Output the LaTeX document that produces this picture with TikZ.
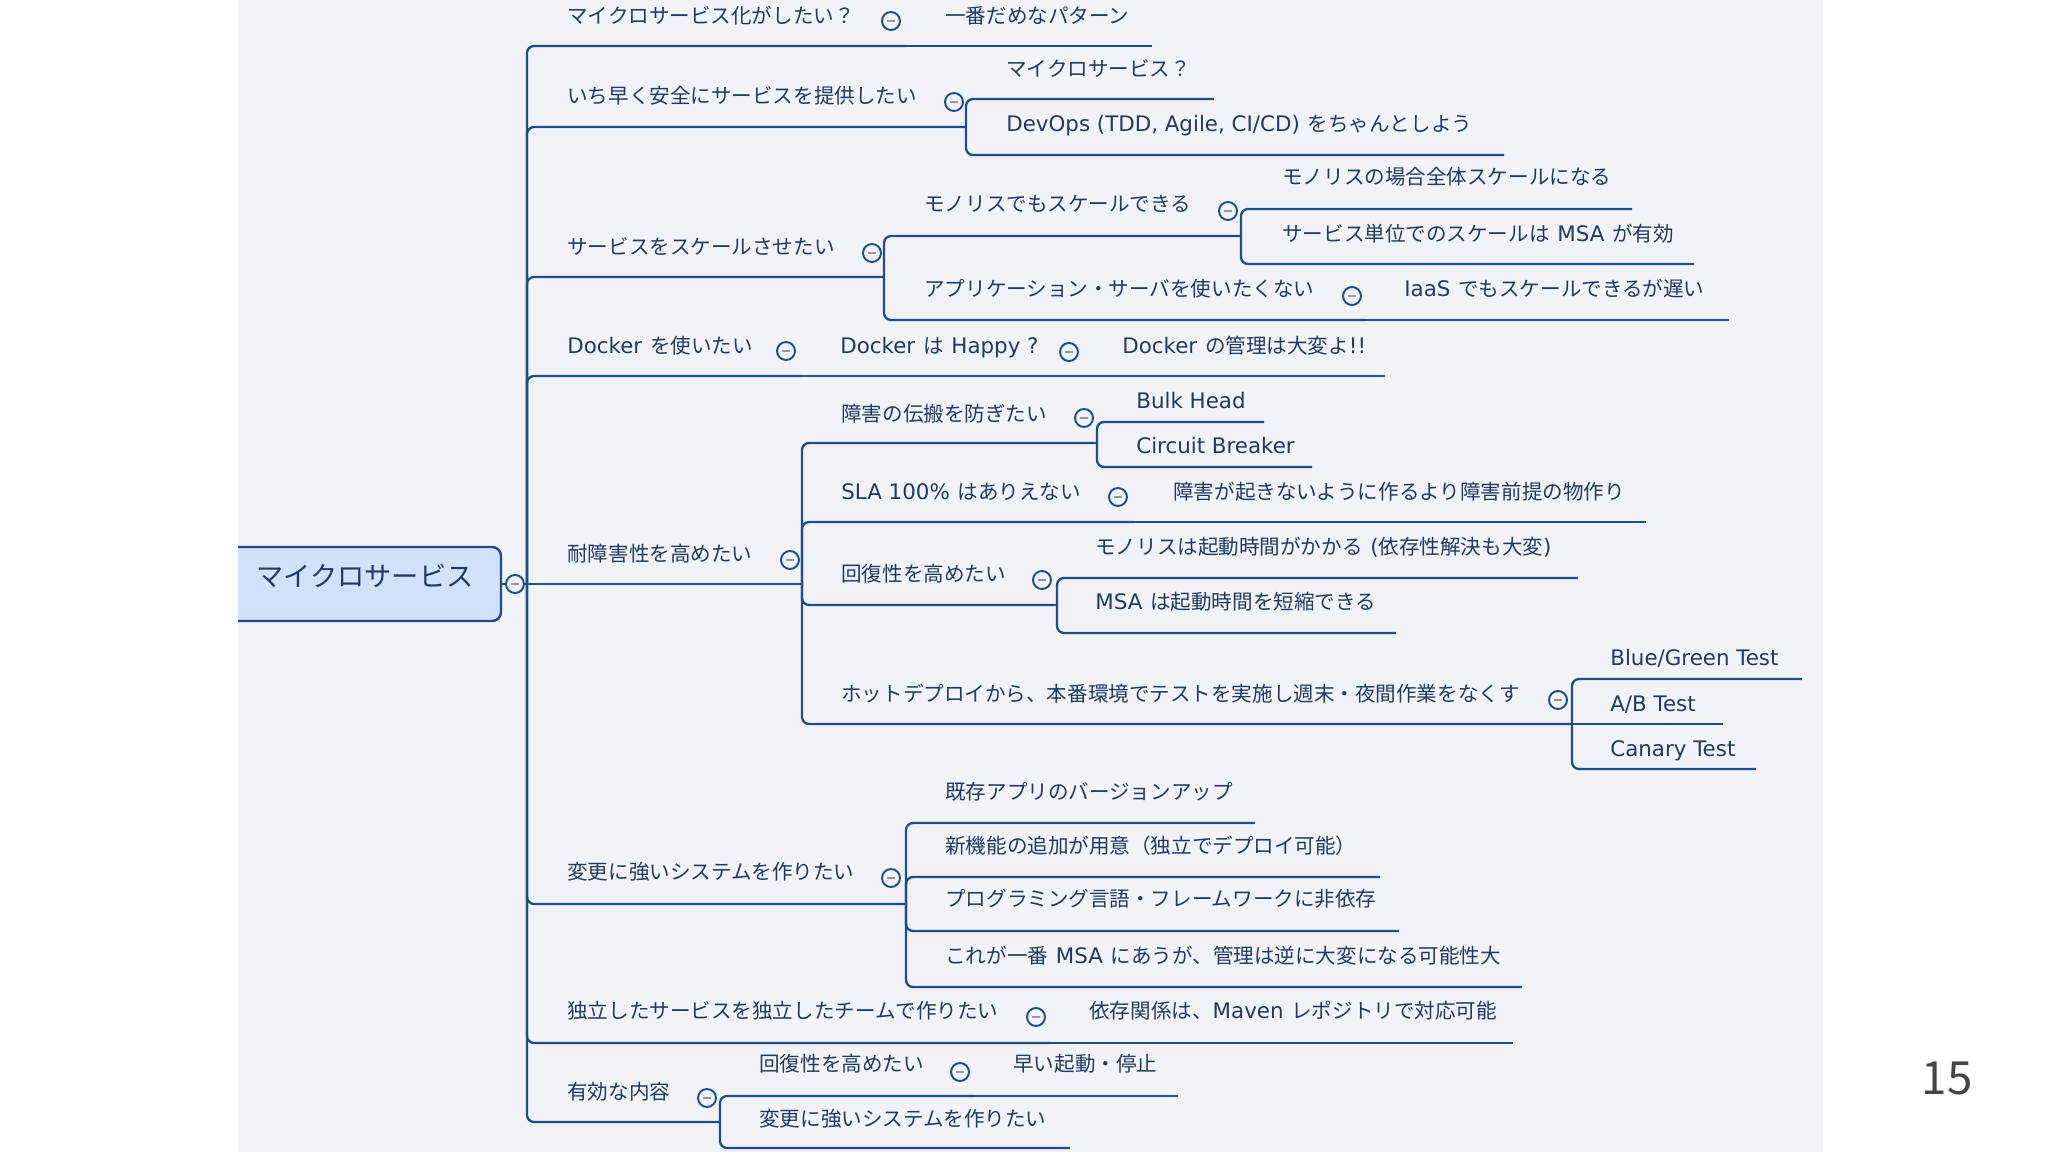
\documentclass[tikz,border=0pt]{standalone}
\usepackage{fontspec}
\setmainfont{Noto Sans CJK JP}[WordSpace=1.7]
\newfontfamily\lat{DejaVu Sans}[Scale=1.04]
\definecolor{paper}{RGB}{241,243,249}
\definecolor{edgeblue}{RGB}{31,78,134}
\definecolor{inkblue}{RGB}{32,58,98}
\definecolor{rootfill}{RGB}{210,225,250}
\definecolor{dashgray}{RGB}{140,154,176}
\begin{document}
\begin{tikzpicture}[x=0.02cm, y=-0.02cm,
	branch/.style={draw=edgeblue, line width=1.3pt, rounded corners=4pt},
	topic/.style={anchor=west, inner sep=0pt, text=inkblue, font=\fontsize{11.7}{14}\selectfont, text height=9.4pt, text depth=2.3pt},
	fold/.style={circle, draw=edgeblue, line width=1.1pt, fill=paper, minimum size=0.36cm, inner sep=0pt,
		path picture={\draw[dashgray, line width=0.8pt] ([xshift=-2.3pt]path picture bounding box.center) -- ([xshift=2.3pt]path picture bounding box.center);}},
	root/.style={draw=edgeblue, line width=1.4pt, fill=rootfill, rounded corners=5pt, minimum width=5.44cm, minimum height=1.48cm,
		text=inkblue, font=\fontsize{15.5}{18}\selectfont, text height=9.4pt, text depth=6.3pt},
	pagenum/.style={text=black!73, font=\fontsize{26}{30}\selectfont}]
	
	% 背景
	\fill[white] (0,0) rectangle (2048,1152);
	\fill[paper] (238,0) rectangle (1823,1152);
	\useasboundingbox (0,0) rectangle (2048,1152);
	
	% 中心トピック
	\begin{scope}
		\clip (238,0) rectangle (1823,1152);
		\node[root] (ms) at (365,584) {マイクロサービス};
	\end{scope}
	\node[fold] (ms-f) at (515,584) {};
	\coordinate (ms-j) at (527,584);
	
	% 線の終点
	\coordinate (t1e) at (906,46);
	\coordinate (t1ae) at (1152,46);
	\coordinate (t2e) at (966,127);
	\coordinate (t2ae) at (1214,99);
	\coordinate (t2be) at (1504,155);
	\coordinate (t3e) at (884,277);
	\coordinate (t3ae) at (1241,236);
	\coordinate (t3a1e) at (1632,209);
	\coordinate (t3a2e) at (1694,264);
	\coordinate (t3be) at (1365,320);
	\coordinate (t3b1e) at (1729,320);
	\coordinate (t4e) at (801,376);
	\coordinate (t4ae) at (1083,376);
	\coordinate (t4a1e) at (1385,376);
	\coordinate (t5e) at (802,584);
	\coordinate (t5ae) at (1097,443);
	\coordinate (t5a1e) at (1264,422);
	\coordinate (t5a2e) at (1312,467);
	\coordinate (t5be) at (1134,522);
	\coordinate (t5b1e) at (1646,522);
	\coordinate (t5ce) at (1057,605);
	\coordinate (t5c1e) at (1578,578);
	\coordinate (t5c2e) at (1396,633);
	\coordinate (t5de) at (1572,724);
	\coordinate (t5d1e) at (1802,679);
	\coordinate (t5d2e) at (1723,724);
	\coordinate (t5d3e) at (1756,769);
	\coordinate (t6e) at (906,904);
	\coordinate (t6ae) at (1255,823);
	\coordinate (t6be) at (1380,877);
	\coordinate (t6ce) at (1399,931);
	\coordinate (t6de) at (1522,987);
	\coordinate (t7e) at (1050,1043);
	\coordinate (t7ae) at (1513,1043);
	\coordinate (t8e) at (720,1122);
	\coordinate (t8ae) at (974,1096);
	\coordinate (t8a1e) at (1178,1096);
	\coordinate (t8be) at (1070,1148);
	
	% 枝
	\draw[branch] (ms.east) -- (ms-f.west);
	\draw[branch] (ms-f.east) -- (ms-j);
	\draw[branch] (ms-j) |- (t1e);
	\draw[branch] (t1e) -- (t1ae);
	\draw[branch] (ms-j) |- (t2e);
	\draw[branch] (t2e) |- (t2ae);
	\draw[branch] (t2e) |- (t2be);
	\draw[branch] (ms-j) |- (t3e);
	\draw[branch] (t3e) |- (t3ae);
	\draw[branch] (t3ae) |- (t3a1e);
	\draw[branch] (t3ae) |- (t3a2e);
	\draw[branch] (t3e) |- (t3be);
	\draw[branch] (t3be) -- (t3b1e);
	\draw[branch] (ms-j) |- (t4e);
	\draw[branch] (t4e) -- (t4ae);
	\draw[branch] (t4ae) -- (t4a1e);
	\draw[branch] (ms-j) -- (t5e);
	\draw[branch] (t5e) |- (t5ae);
	\draw[branch] (t5ae) |- (t5a1e);
	\draw[branch] (t5ae) |- (t5a2e);
	\draw[branch] (t5e) |- (t5be);
	\draw[branch] (t5be) -- (t5b1e);
	\draw[branch] (t5e) |- (t5ce);
	\draw[branch] (t5ce) |- (t5c1e);
	\draw[branch] (t5ce) |- (t5c2e);
	\draw[branch] (t5e) |- (t5de);
	\draw[branch] (t5de) |- (t5d1e);
	\draw[branch] (t5de) -- (t5d2e);
	\draw[branch] (t5de) |- (t5d3e);
	\draw[branch] (ms-j) |- (t6e);
	\draw[branch] (t6e) |- (t6ae);
	\draw[branch] (t6e) |- (t6be);
	\draw[branch] (t6e) |- (t6ce);
	\draw[branch] (t6e) |- (t6de);
	\draw[branch] (ms-j) |- (t7e);
	\draw[branch] (t7e) -- (t7ae);
	\draw[branch] (ms-j) |- (t8e);
	\draw[branch] (t8e) |- (t8ae);
	\draw[branch] (t8ae) -- (t8a1e);
	\draw[branch] (t8e) |- (t8be);
	
	% トピック
	\node[topic] (t1) at (567,17) {マイクロサービス化がしたい？};
	\node[fold] (f1) at (891,21) {};
	\node[topic] (t1a) at (945,17) {一番だめなパターン};
	
	\node[topic] (t2) at (567,97) {いち早く安全にサービスを提供したい};
	\node[fold] (f2) at (954,102) {};
	\node[topic] (t2a) at (1006,70) {マイクロサービス？};
	\node[topic] (t2b) at (1006,125) {{\lat DevOps (TDD, Agile, CI/CD)} をちゃんとしよう};
	
	\node[topic] (t3) at (567,248) {サービスをスケールさせたい};
	\node[fold] (f3) at (872,253) {};
	\node[topic] (t3a) at (924,205) {モノリスでもスケールできる};
	\node[fold] (f3a) at (1228,211) {};
	\node[topic] (t3a1) at (1282,178) {モノリスの場合全体スケールになる};
	\node[topic] (t3a2) at (1282,235) {サービス単位でのスケールは {\lat MSA} が有効};
	\node[topic] (t3b) at (924,290) {アプリケーション・サーバを使いたくない};
	\node[fold] (f3b) at (1352,296) {};
	\node[topic] (t3b1) at (1404,290) {{\lat IaaS} でもスケールできるが遅い};
	
	\node[topic] (t4) at (567,347) {{\lat Docker} を使いたい};
	\node[fold] (f4) at (786,351) {};
	\node[topic] (t4a) at (840,347) {{\lat Docker} は {\lat Happy ?}};
	\node[fold] (f4a) at (1069,352) {};
	\node[topic] (t4a1) at (1122,347) {{\lat Docker} の管理は大変よ{\lat !!}};
	
	\node[topic] (t5) at (567,555) {耐障害性を高めたい};
	\node[fold] (f5) at (790,560) {};
	\node[topic] (t5a) at (841,415) {障害の伝搬を防ぎたい};
	\node[fold] (f5a) at (1084,418) {};
	\node[topic] (t5a1) at (1136,402) {\lat Bulk Head};
	\node[topic] (t5a2) at (1136,447) {\lat Circuit Breaker};
	\node[topic] (t5b) at (841,493) {{\lat SLA 100\%} はありえない};
	\node[fold] (f5b) at (1118,497) {};
	\node[topic] (t5b1) at (1173,493) {障害が起きないように作るより障害前提の物作り};
	\node[topic] (t5c) at (841,575) {回復性を高めたい};
	\node[fold] (f5c) at (1042,580) {};
	\node[topic] (t5c1) at (1095,548) {モノリスは起動時間がかかる {\lat (}依存性解決も大変{\lat )}};
	\node[topic] (t5c2) at (1095,603) {{\lat MSA} は起動時間を短縮できる};
	\node[topic] (t5d) at (841,695) {ホットデプロイから、本番環境でテストを実施し週末・夜間作業をなくす};
	\node[fold] (f5d) at (1558,700) {};
	\node[topic] (t5d1) at (1610,659) {\lat Blue/Green Test};
	\node[topic] (t5d2) at (1610,705) {\lat A/B Test};
	\node[topic] (t5d3) at (1610,750) {\lat Canary Test};
	
	\node[topic] (t6) at (567,873) {変更に強いシステムを作りたい};
	\node[fold] (f6) at (891,878) {};
	\node[topic] (t6a) at (945,793) {既存アプリのバージョンアップ};
	\node[topic] (t6b) at (945,847) {新機能の追加が用意（独立でデプロイ可能）};
	\node[topic] (t6c) at (945,900) {プログラミング言語・フレームワークに非依存};
	\node[topic] (t6d) at (945,957) {これが一番 {\lat MSA} にあうが、管理は逆に大変になる可能性大};
	
	\node[topic] (t7) at (567,1012) {独立したサービスを独立したチームで作りたい};
	\node[fold] (f7) at (1036,1017) {};
	\node[topic] (t7a) at (1089,1012) {依存関係は、{\lat Maven} レポジトリで対応可能};
	
	\node[topic] (t8) at (567,1093) {有効な内容};
	\node[fold] (f8) at (707,1098) {};
	\node[topic] (t8a) at (759,1065) {回復性を高めたい};
	\node[fold] (f8a) at (960,1072) {};
	\node[topic] (t8a1) at (1013,1065) {早い起動・停止};
	\node[topic] (t8b) at (759,1120) {変更に強いシステムを作りたい};
	
	% ページ番号
	\node[pagenum] (pg) at (1947,1078) {15};
\end{tikzpicture}
\end{document}
